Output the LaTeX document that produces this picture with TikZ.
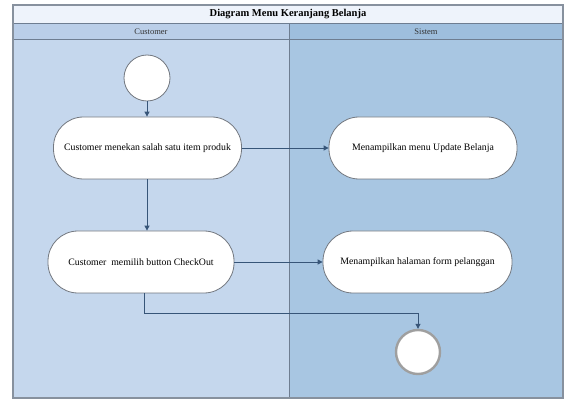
\documentclass[tikz,border=0pt]{standalone}
\usepackage{fontspec}
\setmainfont{Liberation Serif}
\usetikzlibrary{arrows.meta}
\definecolor{laneL}{RGB}{197,215,237}
\definecolor{laneR}{RGB}{168,198,226}
\definecolor{hdrL}{RGB}{186,206,232}
\definecolor{hdrR}{RGB}{158,190,221}
\definecolor{titlebg}{RGB}{238,243,251}
\definecolor{framec}{RGB}{135,145,158}
\definecolor{sepc}{RGB}{110,125,145}
\definecolor{linec}{RGB}{55,85,120}
\definecolor{nodeb}{RGB}{115,120,128}
\tikzset{
  act/.style={draw=nodeb, line width=0.8pt, fill=white, rounded corners=30pt,
    minimum width=188pt, minimum height=62pt, inner sep=0pt,
    font=\fontsize{9.8}{11}\selectfont},
  initst/.style={circle, draw=nodeb, fill=white, minimum size=46pt,
    line width=0.8pt, inner sep=0pt},
  finalst/.style={circle, draw=gray!75, fill=white, minimum size=44pt,
    line width=2.4pt, inner sep=0pt},
  flow/.style={draw=linec, line width=0.9pt, -{Triangle[length=5pt,width=5pt]}},
  lanelbl/.style={font=\fontsize{8.5}{10}\selectfont, text=black!80},
}
\begin{document}
\begin{tikzpicture}[x=1pt,y=-1pt]
\useasboundingbox (0,0) rectangle (566,401);
\fill[white] (0,0) rectangle (566,401);
% lanes
\fill[laneL] (13,40) rectangle (289,398);
\fill[laneR] (289,40) rectangle (563,398);
\fill[hdrL] (13,24) rectangle (289,40);
\fill[hdrR] (289,24) rectangle (563,40);
\fill[titlebg] (13,5) rectangle (563,24);
\draw[sepc, line width=1pt] (13,24) -- (563,24);
\draw[sepc, line width=1pt] (13,40) -- (563,40);
\draw[sepc, line width=0.9pt] (289,24) -- (289,398);
\draw[framec, line width=1.5pt] (13,5) rectangle (563,398);
\node[font=\bfseries\fontsize{10.5}{12}\selectfont] (title) at (288,14.5) {Diagram Menu Keranjang Belanja};
\node[lanelbl] (lc) at (151,32) {Customer};
\node[lanelbl] (ls) at (426,32) {Sistem};
% nodes
\node[initst] (start) at (147,78) {};
\node[act] (a1) at (147.5,148) {Customer menekan salah satu item produk};
\node[act] (a2) at (423,148) {Menampilkan menu Update Belanja};
\node[act, minimum width=186pt] (a3) at (141,262) {Customer\ \ memilih button CheckOut};
\node[act, minimum width=189pt] (a4) at (417.5,262) {Menampilkan halaman form pelanggan};
\node[finalst] (end) at (418,352) {};
% flows
\draw[flow] (start) -- (start |- a1.north);
\draw[flow] (a1) -- (a2);
\draw[flow] (a1.south -| start) -- (start |- a3.north);
\draw[flow] (a3) -- (a4);
\draw[flow] ([xshift=3pt]a3.south) -- ++(0,20) -| (end.north);
\end{tikzpicture}
\end{document}
